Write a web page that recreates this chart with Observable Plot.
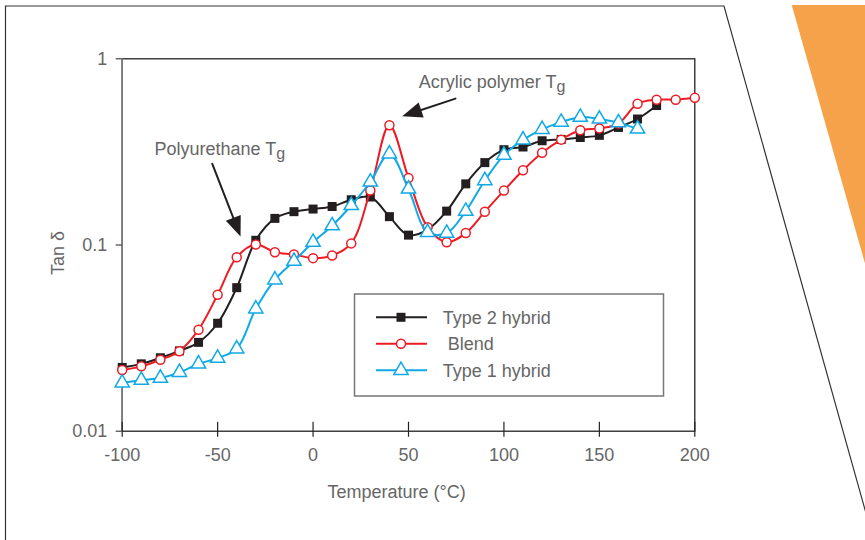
<!DOCTYPE html>
<html><head><meta charset="utf-8">
<script src="https://cdn.jsdelivr.net/npm/d3@7"></script>
<script src="https://cdn.jsdelivr.net/npm/@observablehq/plot@0.6"></script>
<style>body{margin:0;background:#fff} svg{display:block}</style>
</head><body><div id="chart"></div>
<script>
// ---- data ----
const temps2 = [-100,-90,-80,-70,-60,-50,-40,-30,-20,-10,0,10,20,30,40,50,60,70,80,90,100,110,120,130,140,150,160,170,180];
const type2  = [0.022,0.023,0.0248,0.027,0.030,0.038,0.059,0.106,0.139,0.151,0.156,0.161,0.175,0.181,0.142,0.113,0.121,0.152,0.213,0.277,0.325,0.336,0.363,0.369,0.378,0.388,0.428,0.475,0.561];
const tempsB = [-100,-90,-80,-70,-60,-50,-40,-30,-20,-10,0,10,20,30,40,50,60,70,80,90,100,110,120,130,140,150,160,170,180,190,200];
const blend  = [0.0213,0.0223,0.0242,0.0269,0.0351,0.054,0.086,0.1006,0.0915,0.089,0.085,0.0878,0.102,0.196,0.44,0.229,0.1246,0.1035,0.116,0.151,0.196,0.252,0.313,0.368,0.413,0.423,0.449,0.574,0.603,0.603,0.617];
const temps1 = [-100,-90,-80,-70,-60,-50,-40,-30,-20,-10,0,10,20,30,40,50,60,70,80,90,100,110,120,130,140,150,160,170];
const type1  = [0.0182,0.0188,0.0193,0.0207,0.0230,0.0247,0.0277,0.0454,0.065,0.0819,0.1035,0.127,0.163,0.218,0.309,0.2,0.117,0.1157,0.152,0.222,0.304,0.367,0.418,0.457,0.486,0.475,0.454,0.42];

const seriesNames  = ["Type 2 hybrid", " Blend", "Type 1 hybrid"];
const seriesColors = ["#231f20", "#ed1c24", "#10a9e6"];
const xTicks = [-100,-50,0,50,100,150,200];
const xTickLabels = ["-100","-50","0","50","100","150","200"];
const yTicks = [0.01,0.1,1];
const yTickLabels = ["0.01","0.1","1"];
const xLabel = "Temperature (°C)";
const yLabel = "Tan δ";

// annotations (data coordinates)
const annoLabels = ["Polyurethane T", "Acrylic polymer T"];
const annoSub    = ["g", "g"];
const annoTextX  = [-83.1, 55.4];
const annoTextY  = [0.325, 0.75];
const arrowFromX = [-52.8, 74.6];
const arrowFromY = [0.273, 0.611];
const arrowToX   = [-38.0, 46.7];
const arrowToY   = [0.111, 0.491];
const arrowAngle = [158.7, 251.6];

// ---- tables ----
const d2 = temps2.map((t,i)=>({t, v:type2[i]}));
const dB = tempsB.map((t,i)=>({t, v:blend[i]}));
const d1 = temps1.map((t,i)=>({t, v:type1[i]}));
const anno = annoLabels.map((label,i)=>({label, tx:annoTextX[i], ty:annoTextY[i],
  x1:arrowFromX[i], y1:arrowFromY[i], x2:arrowToX[i], y2:arrowToY[i], a:arrowAngle[i]}));

const W = 865, H = 540, mL = 121.7, mR = 865-694.3, mT = 58.3, mB = 540-430.7;
const plotW = W - mL - mR, plotH = H - mT - mB;
const font = "Liberation Sans, Arial, Helvetica, sans-serif";
const grey = "#666";

const svg = Plot.plot({
  width: W, height: H,
  marginLeft: mL, marginRight: mR, marginTop: mT, marginBottom: mB,
  style: {fontFamily: font, background: "white", overflow: "visible"},
  x: {domain: [-100, 200], axis: null},
  y: {type: "log", domain: [0.01, 1], axis: null},
  marks: [
    Plot.frame({stroke: "#222", strokeWidth: 1.3}),
    Plot.ruleX([-100], {stroke: "#7a7a7a", strokeWidth: 1.6}),
    Plot.ruleX(xTicks, {stroke: "#222", strokeWidth: 1.2, insetTop: plotH - 9, insetBottom: -6}),
    Plot.ruleY(yTicks, {stroke: "#444", strokeWidth: 1.2, insetRight: plotW, insetLeft: -6}),
    Plot.text(xTicks, {x: d=>d, frameAnchor: "bottom", lineAnchor: "middle", dy: 24, text: (d,i)=>xTickLabels[i], fill: grey, fontSize: 18}),
    Plot.text(yTicks, {y: d=>d, frameAnchor: "left", lineAnchor: "middle", dx: -15, textAnchor: "end", text: (d,i)=>yTickLabels[i], fill: grey, fontSize: 18}),
    Plot.text([xLabel], {frameAnchor: "bottom", lineAnchor: "middle", textAnchor: "middle", dx: -12, dy: 61.5, fill: grey, fontSize: 18}),
    Plot.text([yLabel], {frameAnchor: "left", lineAnchor: "middle", textAnchor: "middle", rotate: -90, dx: -64, dy: 8, fill: grey, fontSize: 18}),
    // series
    Plot.line(d2, {x: "t", y: "v", stroke: seriesColors[0], strokeWidth: 2, curve: "catmull-rom"}),
    Plot.dot(d2, {x: "t", y: "v", symbol: "square", r: 5.08, fill: seriesColors[0], stroke: "none"}),
    Plot.line(dB, {x: "t", y: "v", stroke: seriesColors[1], strokeWidth: 2, curve: "catmull-rom"}),
    Plot.dot(dB, {x: "t", y: "v", symbol: "circle", r: 4.5, fill: "white", stroke: seriesColors[1], strokeWidth: 1.5}),
    Plot.line(d1, {x: "t", y: "v", stroke: seriesColors[2], strokeWidth: 2, curve: "catmull-rom"}),
    Plot.dot(d1, {x: "t", y: "v", symbol: "triangle", r: 5.3, fill: "white", stroke: seriesColors[2], strokeWidth: 1.5}),
    // annotations
    Plot.text(anno, {x: "tx", y: "ty", text: "label", textAnchor: "start", lineAnchor: "middle", fill: grey, fontSize: 18}),
    Plot.arrow(anno, {x1: "x1", y1: "y1", x2: "x2", y2: "y2", headLength: 0, insetEnd: 12, stroke: "#231f20", strokeWidth: 2}),
    Plot.vector(anno, {x: "x2", y: "y2", anchor: "end", length: 20, r: 8, rotate: "a", shape: "spike", fill: "#231f20", stroke: "none"})
  ]
});

const s = d3.select(svg);
// subscripts for annotation labels
s.selectAll("text").each(function() {
  const i = annoLabels.indexOf(this.textContent);
  if (i >= 0) d3.select(this).append("tspan").attr("dy", 4).attr("font-size", 16).text(annoSub[i]);
});

// decorative slide frame and orange accent (behind everything)
s.insert("path", ":first-child").attr("d", "M5.5,540L5.5,6L724,6L873.5,540").attr("fill", "none").attr("stroke", "#333").attr("stroke-width", 1.2);
s.insert("path", ":first-child").attr("d", "M791.7,5L865,5L865,263.4Z").attr("fill", "#f5a24b");

// legend
const lg = s.append("g").attr("font-family", font);
lg.append("rect").attr("x", 354.5).attr("y", 294).attr("width", 309).attr("height", 102)
  .attr("fill", "white").attr("stroke", "#777").attr("stroke-width", 1.5);
const symbols = [d3.symbolSquare, d3.symbolCircle, d3.symbolTriangle];
const symSize = [81, 63.6, 88];
seriesNames.forEach((name, i) => {
  const y = 317.3 + i * 26.5;
  lg.append("line").attr("x1", 376).attr("x2", 427).attr("y1", y).attr("y2", y)
    .attr("stroke", seriesColors[i]).attr("stroke-width", 2);
  lg.append("path").attr("transform", `translate(401,${y})`)
    .attr("d", d3.symbol(symbols[i], symSize[i])())
    .attr("fill", i === 0 ? seriesColors[0] : "white")
    .attr("stroke", i === 0 ? "none" : seriesColors[i]).attr("stroke-width", 1.5);
  lg.append("text").attr("x", 442.7).attr("y", y + 6.3).attr("font-size", 18).attr("fill", grey)
    .attr("text-anchor", "start").style("white-space", "pre").text(name);
});

document.getElementById("chart").appendChild(svg);
</script>
</body></html>
